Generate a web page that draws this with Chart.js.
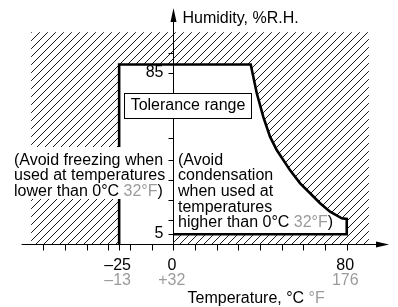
<!DOCTYPE html>
<html><head><meta charset="utf-8">
<script src="https://cdn.jsdelivr.net/npm/chart.js@4.4.1/dist/chart.umd.min.js"></script>
<style>html,body{margin:0;padding:0;background:#fff}#wrap{width:398px;height:307px;position:relative}</style>
</head><body><div id="wrap"><canvas id="c" width="398" height="307"></canvas></div>
<script>
// ---- data ----
const hatchTemp = [-65.6, 90.2, 90.2, -65.6];
const hatchHum  = [0, 0, 105.5, 105.5];
const toleranceTemp = [-25, -25, 35.7, 38.5, 41.5, 44.6, 47.7, 53.8, 58.5, 63.1, 67.7, 72.3, 77.7, 80, 80, 0];
const toleranceHum  = [0, 89.4, 89.4, 75.1, 63.4, 53.5, 46.9, 36.9, 30.3, 25.4, 20.4, 16.2, 12.9, 12.6, 5, 5];
const xTickValues = [-60, -50, -40, -30, -25, -20, -10, 0, 10, 20, 30, 40, 50, 60, 70, 80];
const xLabelValues = [-25, 0, 80];
const xLabelsC = ['–25', '0', '80'];
const xLabelsF = ['–13', '+32', '176'];
const yTickValues = [95, 85, 53, 42, 32, 22, 12, 5];
const yLabelValues = [85, 5];
const yLabels = ['85', '5'];
const leftNote = [[['(Avoid freezing when', 0]], [['used at temperatures', 0]], [['lower than 0°C ', 0], ['32°F', 1], [')', 0]]];
const rightNote = [[['(Avoid', 0]], [['condensation', 0]], [['when used at', 0]], [['temperatures', 0]], [['higher than 0°C ', 0], ['32°F', 1], [')', 0]]];
const boxLabel = 'Tolerance range';
const yTitle = 'Humidity, %R.H.';
const xTitle = [['Temperature, °C ', 0], ['°F', 1]];

const FONT = '16px "Liberation Sans", Arial, Helvetica, sans-serif';
const BLACK = '#000';
const GRAY = '#9b9b9b';

const canvas = document.getElementById('c');
const mainCtx = canvas.getContext('2d');
function makeHatch() {
  const p = document.createElement('canvas');
  p.width = 8; p.height = 8;
  const g = p.getContext('2d');
  g.strokeStyle = '#1a1a1a';
  g.lineWidth = 1;
  g.beginPath();
  g.moveTo(0, 8); g.lineTo(8, 0);
  g.moveTo(-1, 1); g.lineTo(1, -1);
  g.moveTo(7, 9); g.lineTo(9, 7);
  g.stroke();
  return mainCtx.createPattern(p, 'repeat');
}
const pts = (xs, ys) => xs.map((x, i) => ({x: x, y: ys[i]}));

function drawRich(ctx, parts, x, y) {
  let cx = x;
  for (const [t, c] of parts) {
    ctx.fillStyle = c ? GRAY : BLACK;
    ctx.fillText(t, cx, y);
    cx += ctx.measureText(t).width;
  }
}

const overlay = {
  id: 'overlay',
  afterDatasetsDraw(chart) {
    const ctx = chart.ctx;
    const xs = chart.scales.x, ys = chart.scales.y;
    const X = v => xs.getPixelForValue(v), Y = v => ys.getPixelForValue(v);
    const ax = Math.round(X(0)) + 0.5, ay = Math.round(Y(0)) + 0.5;
    ctx.save();
    ctx.strokeStyle = BLACK; ctx.fillStyle = BLACK; ctx.lineWidth = 1;
    // left note background (covers hatch)
    ctx.fillStyle = '#fff';
    ctx.fillRect(X(-73), 147, X(-3.6) - X(-73), 52);
    // axes
    const xEnd = X(99.5), yEnd = Y(117.5);
    ctx.beginPath();
    ctx.moveTo(chart.chartArea.left, ay); ctx.lineTo(xEnd - 10, ay);
    ctx.moveTo(ax, ay); ctx.lineTo(ax, yEnd + 10);
    // ticks
    xTickValues.forEach(v => { const px = Math.round(X(v)) + 0.5; ctx.moveTo(px, ay); ctx.lineTo(px, ay + 6); });
    yTickValues.forEach(v => { const py = Math.round(Y(v)) + 0.5; ctx.moveTo(ax - 5, py); ctx.lineTo(ax, py); });
    ctx.stroke();
    // arrowheads
    ctx.fillStyle = BLACK;
    ctx.beginPath(); ctx.moveTo(xEnd, ay); ctx.lineTo(xEnd - 13, ay - 3); ctx.lineTo(xEnd - 13, ay + 3); ctx.closePath(); ctx.fill();
    ctx.beginPath(); ctx.moveTo(ax, yEnd); ctx.lineTo(ax - 3, yEnd + 14); ctx.lineTo(ax + 3, yEnd + 14); ctx.closePath(); ctx.fill();
    // text
    ctx.font = FONT; ctx.textBaseline = 'middle';
    // y labels
    ctx.textAlign = 'right'; ctx.fillStyle = BLACK;
    yLabelValues.forEach((v, i) => ctx.fillText(yLabels[i], ax - 10, Y(v) - 1));
    // x labels
    ctx.textAlign = 'center';
    xLabelValues.forEach((v, i) => {
      ctx.fillStyle = BLACK; ctx.fillText(xLabelsC[i], X(v) - 1.5, ay + 21);
      ctx.fillStyle = GRAY; ctx.fillText(xLabelsF[i], X(v) - 1.5, ay + 36.5);
    });
    ctx.textAlign = 'left';
    // titles
    ctx.fillStyle = BLACK; ctx.fillText(yTitle, ax + 9, yEnd + 10.5);
    drawRich(ctx, xTitle, ax + 14, ay + 54);
    // notes
    leftNote.forEach((line, i) => drawRich(ctx, line, X(-73.5), 160.3 + i * 15.7));
    rightNote.forEach((line, i) => drawRich(ctx, line, ax + 4.5, 160.3 + i * 15.6));
    // tolerance range box
    const bx0 = Math.round(X(-22.75)) + 0.5, bx1 = Math.round(X(35.85)) + 0.5;
    const by0 = Math.round(Y(75.4)) + 0.5, by1 = Math.round(Y(63.0)) + 0.5;
    ctx.fillStyle = '#fff'; ctx.fillRect(bx0, by0, bx1 - bx0, by1 - by0);
    ctx.strokeStyle = BLACK; ctx.strokeRect(bx0, by0, bx1 - bx0, by1 - by0);
    ctx.fillStyle = BLACK; ctx.textAlign = 'center';
    ctx.fillText(boxLabel, (bx0 + bx1) / 2, (by0 + by1) / 2);
    ctx.restore();
  }
};

new Chart(canvas, {
  type: 'line',
  data: {
    datasets: [
      { label: 'boundary', data: pts(toleranceTemp, toleranceHum), borderColor: BLACK, borderWidth: 2.6,
        pointRadius: 0, fill: false, tension: 0, order: 1, clip: false, borderJoinStyle: 'miter', borderCapStyle: 'butt' },
      { label: 'tolerance', data: pts(toleranceTemp.concat([0]), toleranceHum.concat([0])), borderWidth: 0,
        borderColor: 'rgba(0,0,0,0)', backgroundColor: '#fff', pointRadius: 0, fill: 'shape', tension: 0, order: 2, clip: false },
      { label: 'hatch', data: pts(hatchTemp, hatchHum), borderWidth: 0, borderColor: 'rgba(0,0,0,0)',
        backgroundColor: makeHatch(), pointRadius: 0, fill: 'shape', tension: 0, order: 3, clip: false }
    ]
  },
  options: {
    responsive: false, animation: false, events: [],
    layout: { padding: { left: 21.6, right: 7.9, top: 8, bottom: 62.7 } },
    scales: {
      x: { type: 'linear', min: -70, max: 100, display: false },
      y: { type: 'linear', min: 0, max: 117.5, display: false }
    },
    plugins: { legend: { display: false }, tooltip: { enabled: false } }
  },
  plugins: [overlay]
});
</script>
</body></html>
